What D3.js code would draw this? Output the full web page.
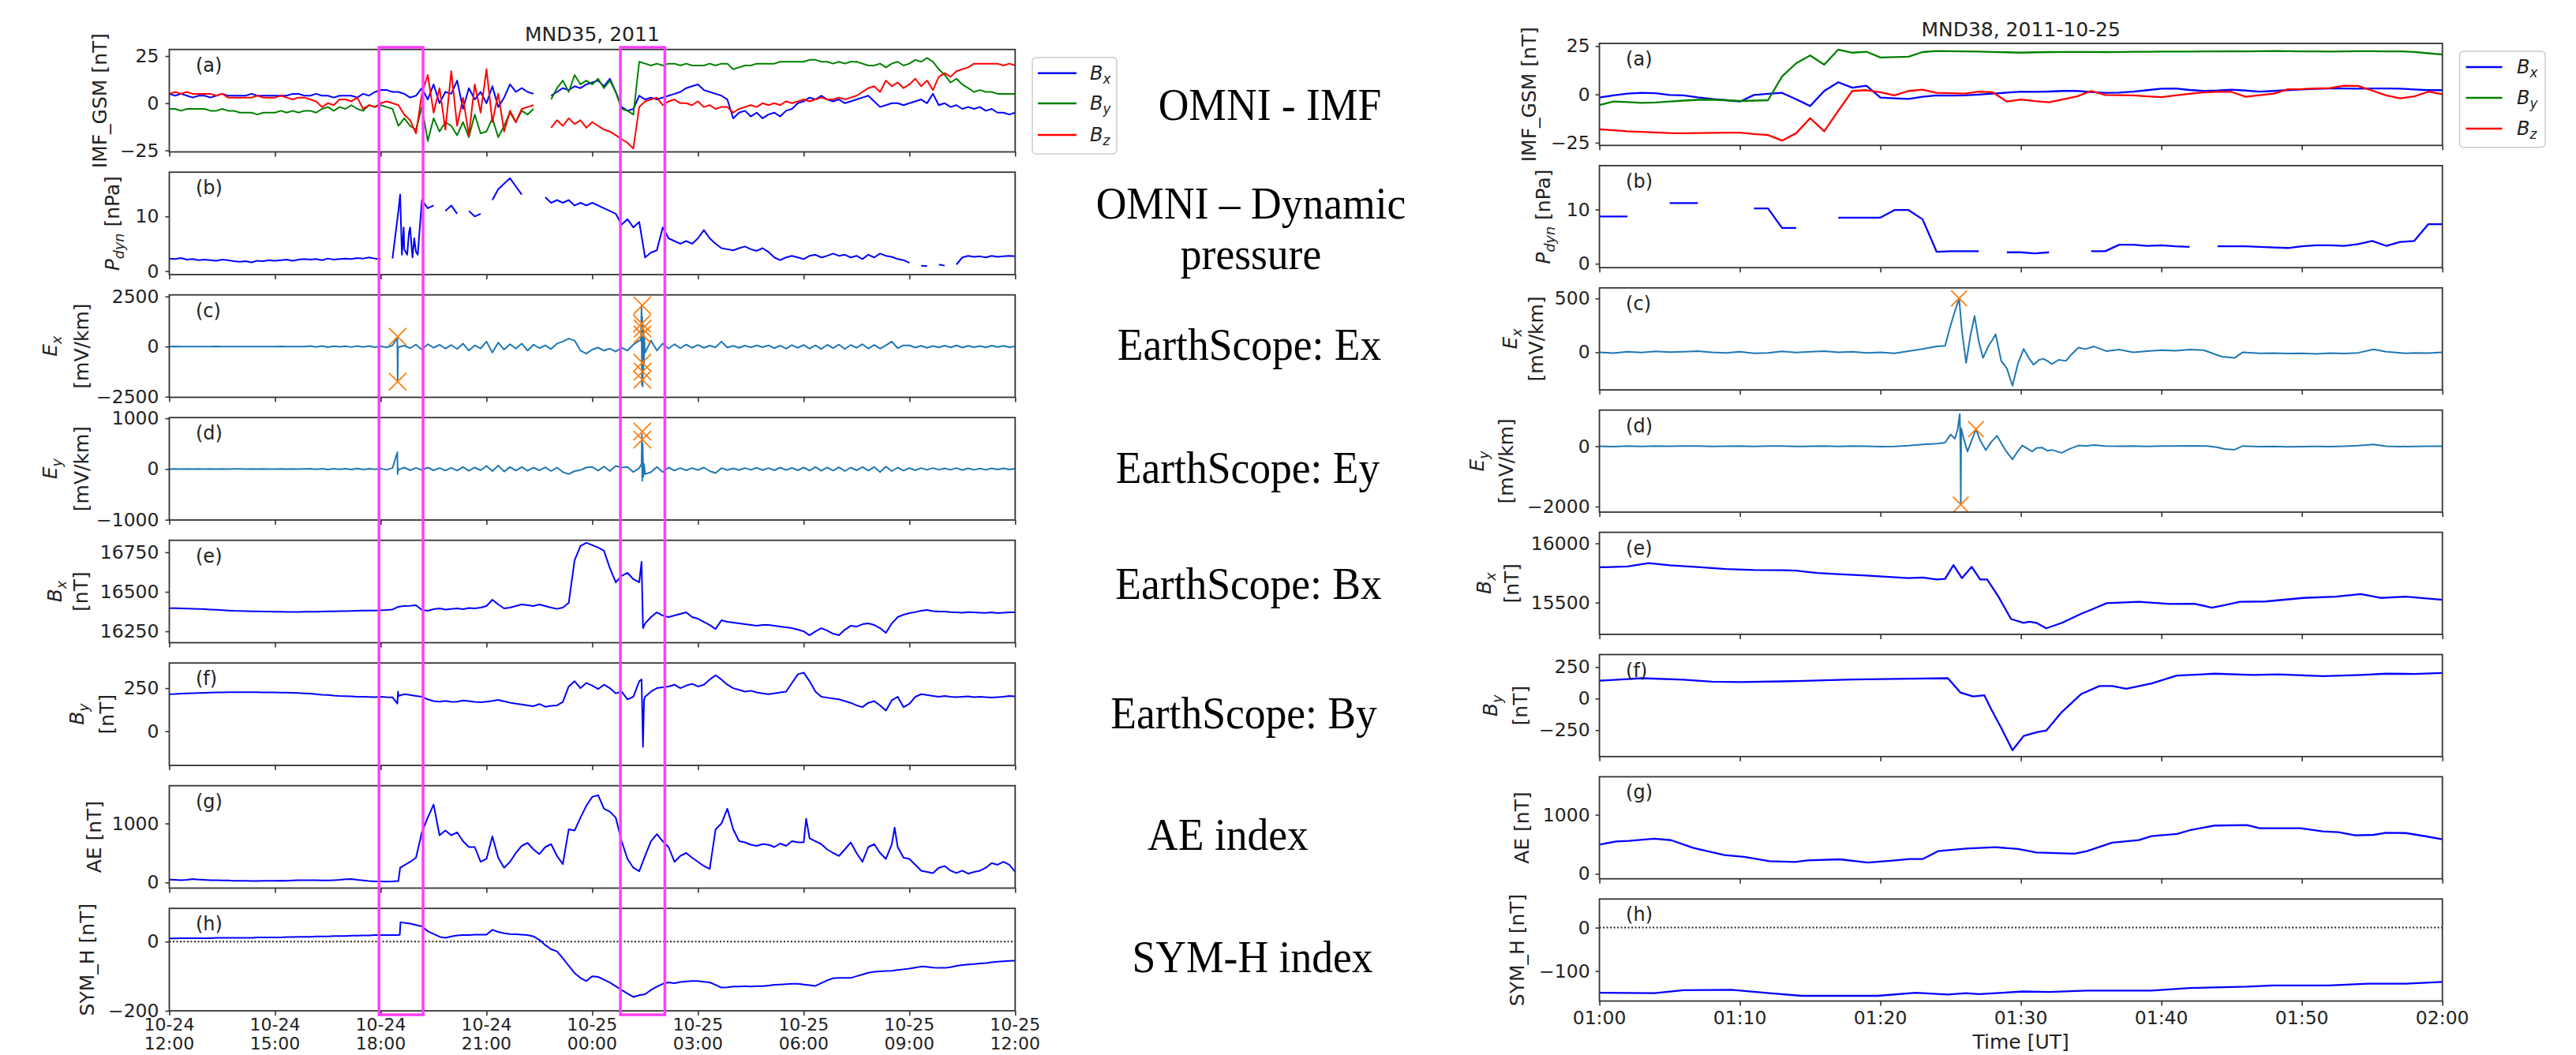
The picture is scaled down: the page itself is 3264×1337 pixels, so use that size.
<!DOCTYPE html>
<html><head><meta charset="utf-8">
<script src="https://cdnjs.cloudflare.com/ajax/libs/d3/7.8.5/d3.min.js"></script>
<style>html,body{margin:0;padding:0;background:#fff;} svg{display:block;}</style>
</head><body>
<svg id="chart" width="3264" height="1337" xmlns="http://www.w3.org/2000/svg"></svg>
<script>
// ===================== DATA =====================
// Left figure: MND35, 10-minute samples from 2011-10-24 12:00 to 2011-10-25 12:00 (145 values)
const leftTitle = "MND35, 2011";
const rightTitle = "MND38, 2011-10-25";
const leftTickDates = ["10-24","10-24","10-24","10-24","10-25","10-25","10-25","10-25","10-25"];
const leftTickTimes = ["12:00","15:00","18:00","21:00","00:00","03:00","06:00","09:00","12:00"];
const rightTickLabels = ["01:00","01:10","01:20","01:30","01:40","01:50","02:00"];

const imfBxL = [5,4,5,4,3,4, 4,3,4,5,4,4, 4,4,5,4,4,4, 4,4,4,5,5,4, 4,5,4,4,3,4, 4,4,3,5,4,6,
  7,7,6,6,5,3, 4,8,2,10,0,6, 5,12,-3,8,2,6, 0,9,-2,3,10,6, 8,6,5,null,null,4, 6,8,7,9,8,10,
  11,12,9,13,6,-2, -4,-3,4,2,3,2, 3,4,5,6,8,9, 10,7,6,5,4,2, -8,-5,-4,-7,-5,-8, -6,-5,-7,-4,-3,0,
  1,3,2,4,2,1, 2,0,1,2,3,4, 1,-2,-1,0,0,-1, 0,1,2,0,5,-1, 0,-2,-1,-3,-2,-3, -2,-4,-3,-5,-5,-6, -5];
const imfByL = [-3,-3,-4,-3,-3,-3, -3,-4,-4,-3,-4,-4, -5,-5,-5,-6,-5,-5, -5,-4,-5,-4,-5,-4, -4,-5,-3,-2,-4,-2, -3,-1,-3,-4,-1,-2,
  -1,-2,-3,-12,-8,-12, -14,-2,-20,-8,-15,-10, -12,-17,-10,-18,-6,-16, -15,-8,-18,-12,-5,-10, -4,-6,-3,null,null,2, 8,12,6,15,10,12,
  10,13,8,12,6,-3, -4,-6,22,21,20,21, 20,21,21,20,21,20, 20,20,21,20,21,21, 18,19,20,20,21,21, 21,21,22,22,22,22,
  22,23,23,22,22,21, 22,21,22,22,21,20, 20,21,19,21,22,20, 21,23,22,24,22,18, 15,11,13,10,8,6, 7,6,6,5,5,5, 5];
const imfBzL = [5,6,5,6,5,5, 5,5,4,5,3,3, 3,3,3,4,3,3, 3,4,3,2,3,3, 2,1,-2,0,-1,2, 2,1,3,-3,-1,-2,
  0,1,0,-1,-6,-9, -16,5,15,-5,8,-14, 17,-12,3,-17,10,-5, 18,-10,5,-15,-4,-10, -3,-2,-1,null,null,-13, -9,-12,-8,-11,-9,-13,
  -10,-12,-14,-15,-17,-19, -21,-24,-2,1,2,3, -1,1,2,0,0,-1, 1,-2,-1,-3,-2,-2, -5,-3,-2,-1,-2,0, -1,0,-1,1,0,1,
  2,1,2,3,2,2, 3,2,3,4,6,8, 9,6,12,9,11,8, 10,13,9,12,7,14, 16,14,17,18,19,21, 21,21,21,21,20,21, 20];
const pdynL = [2.3,2.2,2.4,2.1,2.2,2.0, 2.1,2.0,1.9,2.1,2.0,1.8, 1.7,1.8,1.6,1.9,1.8,2.0, 1.9,2.0,2.1,1.9,2.1,2.2, 2.1,2.2,2.0,2.3,2.1,2.2, 2.3,2.2,2.4,2.3,2.5,2.3,
  2.2,null,2.3,11,4,8, 3.5,13,11.5,12,null,11, 12,10.5,null,11,10,10.5, null,13,15,16,17,15.5, 14,null,14,null,13.5,12.5, 13,12.5,13,12,12.5,12,
  12.5,12,11.5,11,10.5,8.5, 9.5,8,9,2.5,3.4,3.8, 8,6,5.5,5,5.5,5, 6,7.5,6,5,4.2,4, 3.8,4.2,4.5,4.0,3.7,4.2, 3.5,2.5,2,2.5,2.8,2.5,
  2.2,2.8,3,2.5,2.8,3.2, 2.8,3,2.5,2.8,2.2,3, 2.5,3.2,2.8,2.6,2.2,2, 1.5,null,1,0.9,null,1.2, 1,null,1.2,2.5,2.8,2.6, 2.7,2.5,2.8,2.6,2.7,2.8, 2.7];
const pdynExtraL = [[6.55,14],[6.6,3],[6.65,8],[6.75,3],[6.8,7],[6.9,2.5],[6.95,6],[7.05,3]];
const exL = [0,5,-5,3,-2,4, -3,2,5,-4,3,-2, 4,-3,2,-5,3,0, -2,5,-3,4,-4,2, 30,-20,25,-30,20,-15, 20,-25,30,-20,25,-30,
  20,-40,60,-30,50,-80, 100,-150,120,-60,90,-100, 80,-120,150,-200,60,-90, 250,-300,200,-150,120,-100, 150,-200,100,-80,60,-120, 150,250,400,300,-200,-350,
  -150,-50,-200,-100,-250,-50, -200,100,300,-300,300,-200, 150,-100,120,-80,100,-60, 80,-60,50,-40,250,-50, 40,-60,50,-40,60,-30, 60,-80,50,-100,70,-60,
  80,-100,60,-120,90,-70, 100,-120,80,-60,120,-100, 80,-100,60,250,-80,60, 60,-50,40,-60,30,-40, 50,-40,60,-50,40,-30, 30,-40,50,-20,40,-30, 10];
const exExtraL = [[6.47,450],[6.48,-1700],[6.49,20],[13.38,300],[13.40,2050],[13.41,-1900],[13.42,1500],[13.43,-2000],[13.44,1000],[13.45,-1200],[13.46,700],[13.47,-800],[13.48,400],[13.49,-300]];
const exMarkL = [[6.48,500],[6.48,-1750],[13.42,2050],[13.41,1150],[13.43,900],[13.42,600],[13.42,-800],[13.43,-1250],[13.42,-1650]];
const eyL = [0,3,-3,2,-2,3, -2,3,-3,2,-3,2, 3,-2,2,-3,2,-2, -3,2,-2,3,-2,2, 5,-5,8,-8,5,-5, 8,-8,10,-10,8,-5,
  10,-15,20,-20,30,-25, 25,-20,30,-25,20,-30, 25,-30,40,-35,30,-25, 60,-40,70,-50,40,-30, 40,-35,30,-25,35,-40, 30,-60,-100,-40,-20,30,
  40,-30,50,-40,60,30, 40,-60,20,-100,-60,40, -60,30,-30,20,-25,20, -20,30,-40,-80,20,-20, 15,-20,20,-15,25,-20, 20,-25,30,-20,25,-25,
  30,-30,40,-35,30,-30, 35,-40,30,-25,40,-30, 40,-60,50,-40,30,-30, 20,-25,20,-15,20,-15, 15,-15,20,-20,15,-15, 10,-15,15,-10,15,-10, 5];
const eyExtraL = [[6.47,330],[6.48,-100],[6.49,20],[13.40,100],[13.41,690],[13.42,-230],[13.43,500],[13.45,-150],[13.47,100]];
const eyMarkL = [[13.42,740],[13.42,580]];
const bxL = [16397,16396,16395,16394,16393,16392, 16390,16388,16386,16384,16382,16380, 16379,16378,16377,16376,16375,16375,
  16374,16374,16373,16373,16373,16374, 16374,16374,16375,16376,16377,16378, 16378,16379,16380,16381,16382,16382,
  16383,16385,16388,16405,16410,16412, 16415,16385,16380,16390,16395,16388, 16392,16395,16390,16398,16395,16400,
  16410,16450,16420,16395,16400,16410, 16420,16415,16410,16420,16410,16400, 16392,16400,16430,16700,16790,16810,
  16795,16780,16760,16650,16560,16600, 16620,16580,16560,16300,16340,16370, 16350,16340,16350,16360,16370,16340,
  16330,16310,16290,16265,16320,16310, 16305,16300,16295,16290,16285,16290, 16290,16285,16280,16275,16270,16260,
  16250,16225,16250,16270,16255,16235, 16225,16260,16285,16280,16295,16300, 16290,16270,16240,16300,16340,16355,
  16365,16372,16380,16385,16378,16375, 16375,16372,16370,16368,16372,16370, 16368,16366,16370,16365,16368,16370, 16370];
const bxExtraL = [[13.40,16690],[13.44,16270]];
const byL = [215,216,218,220,221,222, 223,224,225,225,226,226, 227,227,226,226,225,225, 225,224,224,223,222,220,
  218,215,212,210,207,205, 204,202,200,200,199,198, 200,198,197,205,215,210, 205,200,185,175,172,176,
  170,172,178,175,170,168, 172,176,182,174,166,160, 155,150,145,158,142,148, 150,170,260,290,250,280,
  265,245,270,250,220,230, 185,200,290,200,230,250, 255,260,270,250,265,275, 260,270,300,325,300,270,
  250,240,230,235,225,220, 215,220,225,230,280,330, 340,290,230,200,195,190, 185,175,165,150,140,165,
  175,150,120,180,200,140, 160,200,215,210,205,200, 205,200,198,200,202,198, 200,198,196,198,200,205, 202];
const byExtraL = [[6.47,160],[6.49,230],[13.40,300],[13.44,-90],[13.47,180]];
const aeL = [50,45,40,45,60,50, 45,40,40,35,35,30, 30,28,25,25,28,30, 30,32,30,35,38,40, 40,38,35,35,40,45, 55,60,45,35,25,20,
  20,15,18,25,290,350, 420,850,1100,1320,800,880, 800,850,700,600,600,350, 400,780,420,250,350,500, 620,670,560,480,600,650,
  450,310,900,880,1100,1300, 1450,1480,1250,1200,1100,700, 400,250,190,450,700,820, 700,600,350,450,500,420,
  350,280,230,900,1000,1250, 900,700,680,640,620,650, 640,600,660,620,700,680, 680,750,700,650,560,500,
  450,560,680,500,350,600, 650,500,400,650,600,420, 400,300,200,180,160,250, 280,200,160,200,150,180, 200,250,330,300,350,300, 180];
const aeExtraL = [[6.55,250],[18.07,1080],[20.58,930]];
const symhL = [9,9,10,10,10,10, 10,10,11,11,11,11, 11,11,11,12,12,12, 12,12,13,13,14,14, 14,15,15,15,16,16, 16,17,17,18,18,19,
  19,19,19,19,54,52, 48,44,30,22,14,11, 15,18,19,19,20,20, 20,34,28,24,22,21, 20,19,15,5,-10,-22, -28,-48,-70,-91,-105,-114,
  -100,-102,-110,-118,-129,-140, -150,-160,-155,-152,-140,-130, -122,-118,-120,-117,-115,-114, -114,-116,-118,-125,-133,-132,
  -130,-130,-129,-130,-129,-129, -127,-125,-124,-123,-122,-122, -124,-126,-128,-120,-112,-106, -105,-105,-105,-100,-95,-90,
  -87,-86,-85,-84,-82,-80, -78,-75,-72,-73,-75,-76, -76,-74,-70,-68,-66,-65, -63,-62,-60,-58,-57,-56, -55];
const symhExtraL = [[6.54,20],[6.56,56]];
// Left highlight windows (hours after 2011-10-24 12:00)
const boxesL = [[5.95,7.2],[12.8,14.06]];

// Right figure: MND38, 2011-10-25 01:00-02:00 (1-minute values, 61 each)
const imfBxR = [-1.6,-0.5,0.4,0.8,0.6,-0.3,-0.5,-1.5,-2.3,-3.0,-3.7,-0.3,0.3,0.8,-2.5,-6,1.8,6.3,3.5,4.5,-1.6,-2.0,-2.3,-1.2,-0.5,-0.6,-0.5,-0.1,0.4,0.9,
  1.4,1.3,1.5,1.8,1.8,1.2,0.8,0.9,1.4,2.2,3.0,3.1,2.3,1.8,2.0,2.5,2.0,1.4,1.8,2.2,2.6,2.9,3.1,3.1,3.0,3.1,3.1,3.0,2.6,2.2,2.2];
const imfByR = [-5.5,-3.7,-4.0,-4.4,-4.2,-3.7,-3.2,-2.8,-2.7,-3.0,-3.4,-3.2,-3.0,9.3,16.1,20.2,15.4,23.2,21.6,22.1,19.1,19.3,19.5,21.9,22.5,22.4,22.3,22.2,22.0,21.8,
  21.6,21.8,21.9,22.0,22.0,22.0,21.9,22.0,22.1,22.1,22.2,22.2,22.2,22.3,22.3,22.4,22.3,22.4,22.5,22.4,22.3,22.3,22.2,22.3,22.4,22.4,22.3,22.3,22.0,21.3,20.6];
const imfBzR = [-18,-18.6,-19.1,-19.4,-19.7,-20.0,-20.1,-20.0,-19.9,-19.8,-19.8,-20.5,-21,-23.9,-20.1,-12.3,-19.1,-8.5,1.8,2.2,1.1,-0.5,1.8,2.5,0.8,0.6,0.4,1.4,1.1,-3.7,
  -2.6,-3.5,-4.1,-2.5,-1,1.8,-0.3,-0.4,-0.5,-1.0,-1.4,-0.5,0.3,1.0,1.4,1.3,-1.2,-0.4,0.4,2.7,2.8,3.1,3.3,4.5,4.4,2.0,-0.5,-2.0,-1.0,1.4,0.1];
const pdynR = [8.7,8.7,8.7,null,null,11.2,11.2,11.2,null,null,null,10.2,10.2,6.6,6.6,null,null,8.5,8.5,8.5,8.5,9.9,9.9,8.2,2.2,2.3,2.3,2.3,null,2.1,
  2.1,1.9,2.1,null,null,2.3,2.3,3.5,3.5,3.3,3.4,3.2,3.1,null,3.2,3.2,3.2,3.1,3.0,2.9,3.2,3.4,3.4,3.3,3.6,4.2,3.3,4.0,4.2,7.3,7.3];
// [minute after 01:00, value]
const exR = [[0,0],[1,-8],[2,5],[3,-3],[4,8],[5,2],[6,5],[7,10],[8,0],[9,-5],[10,5],[11,-10],[12,-5],[13,8],[14,-3],[15,5],[16,10],[17,0],[18,5],[19,-5],[20,0],[21,-10],[22,10],
  [23,30],[24,54],[24.6,60],[25.0,250],[25.3,380],[25.6,500],[25.8,200],[26.1,-98],[26.4,150],[26.7,337],[27.0,100],[27.3,-52],[27.7,60],[28.0,120],[28.2,168],[28.6,-80],
  [29.0,-150],[29.4,-310],[29.8,-100],[30.2,31],[30.6,-60],[30.9,-115],[31.3,-70],[31.6,-60],[32.0,-90],[32.2,-110],[32.7,-70],[33.2,-80],[33.6,-20],[34.1,44],[34.6,30],
  [35.2,54],[35.7,30],[36.1,10],[37,25],[38,0],[39,10],[40,20],[41,15],[42,25],[43,20],[44.3,-41],[45.2,-52],[45.8,0],[47,-10],[48,-8],[49,-12],[50,-10],[51,-15],[52,-8],
  [53,-12],[54,-5],[55.1,27],[56,5],[57.4,-10],[58,-5],[59,-8],[60,0]];
const exMarkR = [[25.6,500]];
const eyR = [[0,0],[1,-10],[2,5],[3,-5],[4,10],[5,0],[6,5],[7,10],[8,-5],[9,0],[10,8],[11,-5],[12,5],[13,10],[14,-8],[15,0],[16,10],[17,-5],[18,5],[19,0],[20,-10],[21,-5],
  [22,20],[23,60],[24,87],[24.6,120],[25.0,391],[25.3,250],[25.5,565],[25.65,1070],[25.7,-300],[25.72,-1930],[25.75,600],[25.9,300],[26.2,-174],[26.5,200],[26.8,565],
  [27.1,200],[27.5,-130],[27.9,150],[28.3,350],[28.9,-130],[29.4,-435],[29.8,-150],[30.1,26],[30.8,-174],[31.1,-60],[31.5,-43],[31.9,-150],[32.2,-120],[32.9,-217],
  [33.5,-80],[34.1,26],[34.6,10],[35.2,43],[36,10],[37,0],[38,10],[39,-5],[40,10],[41,5],[42,15],[43.3,10],[44,-40],[44.5,-90],[45.2,-113],[45.8,10],[47,-10],[48,-5],
  [49,-15],[50,-10],[51,-5],[52,-10],[53,0],[54,20],[55.1,61],[56,0],[57,-10],[58,-5],[59,0],[60,0]];
const eyMarkR = [[25.72,-1930],[26.8,565]];
const bxR = [[0,15798],[2,15805],[3.5,15833],[5,15815],[7,15800],[9,15784],[11,15775],[13,15773],[14,15770],[15.5,15750],[17,15740],[19,15729],[22,15707],[23,15712],
  [24,15696],[24.6,15700],[25.2,15817],[25.8,15707],[26.5,15802],[27.1,15696],[27.6,15696],[28.4,15551],[29.3,15362],[30.2,15329],[30.6,15340],[31.1,15330],[31.8,15284],
  [32.9,15329],[34.3,15407],[35,15440],[36.1,15496],[38.4,15507],[40.6,15489],[42.4,15490],[43.6,15458],[44.5,15480],[45.6,15507],[47.4,15510],[50.1,15540],[52.4,15551],
  [54.2,15573],[55.6,15540],[57.4,15551],[60,15524]];
const byR = [[0,142],[2,155],[3,162],[6,150],[8,135],[10,131],[13,137],[16,145],[18,152],[22,158],[24.8,162],[25.7,48],[26.6,17],[27.4,26],[27.9,-87],[28.6,-233],
  [29.4,-410],[30.2,-296],[31.2,-265],[31.8,-254],[32.9,-108],[34.3,37],[35.6,100],[36.5,100],[37.5,79],[39.3,121],[41.1,183],[43.8,198],[46.5,188],[48.3,192],
  [51.5,179],[54.2,188],[56,198],[58,196],[60,204]];
const aeR = [[0,496],[1.2,549],[2.1,557],[3.9,594],[5.1,570],[6.7,438],[8.9,317],[10.3,287],[12.1,214],[13.9,201],[14.8,228],[17.1,246],[19.1,192],[20.7,220],[22.1,250],
  [23,250],[24.1,384],[26.1,429],[28.2,451],[29.8,420],[31.1,362],[33.8,340],[34.7,384],[36.5,527],[38.4,572],[39.3,638],[41.1,674],[42,737],[43.8,817],[46.1,826],
  [47,773],[49.9,773],[51.5,719],[52.6,705],[53.8,652],[55.1,660],[56,696],[57.4,690],[58.7,640],[60,585]];
const symhR = [[0,-150],[3.9,-151],[5.98,-144],[9.4,-143],[12.1,-151],[14.4,-157],[19.8,-157],[22.5,-150],[24.8,-154],[26.1,-151],[27.0,-153],[30.2,-147],[32.0,-148],
  [34.7,-145],[39.3,-145],[42,-139],[46.1,-136],[47.9,-133],[51.9,-133],[54.7,-129],[57.4,-129],[60,-125]];

const sideLabels = [["OMNI - IMF"],["OMNI – Dynamic","pressure"],["EarthScope: Ex"],["EarthScope: Ey"],["EarthScope: Bx"],["EarthScope: By"],["AE index"],["SYM-H index"]];

// ===================== RENDER =====================
const svg = d3.select("#chart");
const FONT = "DejaVu Sans";
const TICKFS = 23.5, LABFS = 25;
const BLUE="#0000ff", GREEN="#008000", RED="#ff0000", TAB="#1f77b4", ORANGE="#ff7f0e", MAG="#ff3dff";
const leftStart = Date.UTC(2011,9,24,12,0);
const rightStart = Date.UTC(2011,9,25,1,0);
const fmtTick = d3.format("d");

function leftSeries(vals, extras){
  const pts = vals.map((v,i)=>({t:new Date(leftStart+i*600e3), v}));
  (extras||[]).forEach(([h,v])=>pts.push({t:new Date(leftStart+h*3600e3), v}));
  pts.sort((a,b)=>a.t-b.t);
  return pts;
}
const leftPts = arr => arr.map(([h,v])=>({t:new Date(leftStart+h*3600e3), v}));
const rightPairs = arr => arr.map(([m,v])=>({t:new Date(rightStart+m*60e3), v}));
const rightMin = arr => arr.map((v,i)=>({t:new Date(rightStart+i*60e3), v}));

const L = {x0:214.5, x1:1286.3, top0:62.7, step:155.5, h:129.8};
const R = {x0:2026.6, x1:3094.7, top0:55, step:154.9, h:129.3};
const xL = d3.scaleUtc().domain([new Date(leftStart), new Date(leftStart+24*3600e3)]).range([L.x0,L.x1]);
const xR = d3.scaleUtc().domain([new Date(rightStart), new Date(rightStart+3600e3)]).range([R.x0,R.x1]);
const xTicksL = d3.range(0,25,3).map(h=>new Date(leftStart+h*3600e3));
const xTicksR = d3.range(0,61,10).map(m=>new Date(rightStart+m*60e3));

function rich(textSel, parts, fs){
  let sub=false;
  parts.forEach(([s,k])=>{
    const ts = textSel.append("tspan").text(s);
    if(k==="i") ts.attr("font-style","italic");
    if(k==="s"){ ts.attr("font-style","italic").attr("font-size",fs*0.7).attr("dy",fs*0.22); sub=true; }
    else if(sub){ ts.attr("dy",-fs*0.22); sub=false; }
  });
}

let clipN=0;
function panel(o){
  const top=o.top, bot=o.top+o.h, xa0=o.x.range()[0], xa1=o.x.range()[1];
  const y = d3.scaleLinear().domain(o.domain).range([bot, top]);
  const g = svg.append("g");
  const id = "clip"+(clipN++);
  g.append("clipPath").attr("id",id).append("rect").attr("x",xa0).attr("y",top).attr("width",xa1-xa0).attr("height",o.h);
  const plot = g.append("g").attr("clip-path",`url(#${id})`);
  if(o.zero){
    plot.append("line").attr("x1",xa0).attr("x2",xa1).attr("y1",y(0)).attr("y2",y(0))
      .attr("stroke","#222").attr("stroke-width",2).attr("stroke-dasharray","2,2.5");
  }
  o.series.forEach(s=>{
    const line = d3.line().defined(d=>d.v!==null).x(d=>o.x(d.t)).y(d=>y(d.v));
    plot.append("path").datum(s.data).attr("fill","none").attr("stroke",s.color)
      .attr("stroke-width",s.w||2).attr("stroke-linejoin","round").attr("d",line);
  });
  (o.marks||[]).forEach(m=>{
    const cx=o.x(m.t), cy=y(m.v), r=o.mr||10;
    plot.append("path").attr("d",`M${cx-r},${cy-r}L${cx+r},${cy+r}M${cx-r},${cy+r}L${cx+r},${cy-r}`)
      .attr("stroke",ORANGE).attr("stroke-width",1.8).attr("fill","none");
  });
  g.append("rect").attr("x",xa0).attr("y",top).attr("width",xa1-xa0).attr("height",o.h)
    .attr("fill","none").attr("stroke","#333").attr("stroke-width",1.8);
  const ya = g.append("g").attr("transform",`translate(${xa0},0)`)
    .call(d3.axisLeft(y).tickValues(o.ticks).tickSize(5).tickPadding(o.pad||8).tickFormat(fmtTick));
  ya.select(".domain").remove();
  ya.attr("font-size",TICKFS).attr("font-family",FONT);
  ya.selectAll("line").attr("stroke","#333").attr("stroke-width",1.6);
  ya.selectAll("text").attr("fill","#222");
  const xa = g.append("g").attr("transform",`translate(0,${bot})`)
    .call(d3.axisBottom(o.x).tickValues(o.xticks).tickSize(6).tickFormat(""));
  xa.select(".domain").remove();
  xa.selectAll("line").attr("stroke","#333").attr("stroke-width",1.6);
  g.append("text").attr("x",xa0+33.5).attr("y",top+20).attr("dominant-baseline","central")
    .attr("font-family",FONT).attr("font-size",24).attr("fill","#222").text(o.letter);
  o.ylab.forEach((parts,i)=>{
    const t = g.append("text").attr("transform",`translate(${o.ylx[i]},${(top+bot)/2}) rotate(-90)`)
      .attr("text-anchor","middle").attr("font-family",FONT).attr("font-size",LABFS).attr("fill","#222");
    rich(t, parts, LABFS);
  });
  return {y, bot};
}

const letters = ["(a)","(b)","(c)","(d)","(e)","(f)","(g)","(h)"];
const ylabs = [
  [[["IMF_GSM [nT]",""]]],
  [[["P","i"],["dyn","s"],[" [nPa]",""]]],
  [[["E","i"],["x","s"]],[["[mV/km]",""]]],
  [[["E","i"],["y","s"]],[["[mV/km]",""]]],
  [[["B","i"],["x","s"]],[["[nT]",""]]],
  [[["B","i"],["y","s"]],[["[nT]",""]]],
  [[["AE [nT]",""]]],
  [[["SYM_H [nT]",""]]]
];
const ylxL = [[135],[151],[72,112],[72,112],[78,111],[106,144],[128],[119]];
const ylxR = [[1946],[1964],[1922,1955],[1880,1917],[1889,1924],[1897,1935],[1937],[1931]];

const leftCfg = [
  {domain:[-25.8,28.5], ticks:[-25,0,25], series:[{data:leftSeries(imfBxL),color:BLUE},{data:leftSeries(imfByL),color:GREEN},{data:leftSeries(imfBzL),color:RED}]},
  {domain:[-0.64,18.1], ticks:[0,10], series:[{data:leftSeries(pdynL,pdynExtraL),color:BLUE}]},
  {domain:[-2530,2580], ticks:[-2500,0,2500], series:[{data:leftSeries(exL,exExtraL),color:TAB}], marks:leftPts(exMarkL)},
  {domain:[-1005,1015], ticks:[-1000,0,1000], series:[{data:leftSeries(eyL,eyExtraL),color:TAB}], marks:leftPts(eyMarkL)},
  {domain:[16178,16826], ticks:[16250,16500,16750], series:[{data:leftSeries(bxL,bxExtraL),color:BLUE}]},
  {domain:[-198,396], ticks:[0,250], series:[{data:leftSeries(byL,byExtraL),color:BLUE}]},
  {domain:[-95,1640], ticks:[0,1000], series:[{data:leftSeries(aeL,aeExtraL),color:BLUE}]},
  {domain:[-200,96], ticks:[-200,0], series:[{data:leftSeries(symhL,symhExtraL),color:BLUE}], zero:true}
];
const rightCfg = [
  {domain:[-26.4,26.4], ticks:[-25,0,25], series:[{data:rightMin(imfBxR),color:BLUE,w:2.3},{data:rightMin(imfByR),color:GREEN,w:2.3},{data:rightMin(imfBzR),color:RED,w:2.3}]},
  {domain:[-0.73,18.1], ticks:[0,10], series:[{data:rightMin(pdynR),color:BLUE,w:2.3}]},
  {domain:[-349,598], ticks:[0,500], series:[{data:rightPairs(exR),color:TAB}], marks:rightPairs(exMarkR)},
  {domain:[-2183,1200], ticks:[-2000,0], series:[{data:rightPairs(eyR),color:TAB}], marks:rightPairs(eyMarkR)},
  {domain:[15233,16093], ticks:[15500,16000], series:[{data:rightPairs(bxR),color:BLUE,w:2.3}]},
  {domain:[-460,350], ticks:[-250,0,250], series:[{data:rightPairs(byR),color:BLUE,w:2.3}]},
  {domain:[-84,1643], ticks:[0,1000], series:[{data:rightPairs(aeR),color:BLUE,w:2.3}]},
  {domain:[-169,66], ticks:[-100,0], series:[{data:rightPairs(symhR),color:BLUE,w:2.3}], zero:true}
];

let lastL, lastR;
leftCfg.forEach((c,i)=>{
  lastL = panel(Object.assign({x:xL, top:L.top0+i*L.step, h:L.h, xticks:xTicksL, letter:letters[i], ylab:ylabs[i], ylx:ylxL[i], mr:11, pad:8}, c));
});
rightCfg.forEach((c,i)=>{
  lastR = panel(Object.assign({x:xR, top:R.top0+i*R.step, h:R.h, xticks:xTicksR, letter:letters[i], ylab:ylabs[i], ylx:ylxR[i], mr:10, pad:7}, c));
});

// bottom tick labels (two lines on the left figure)
xTicksL.forEach((t,i)=>{
  const tx = svg.append("text").attr("font-family",FONT).attr("font-size",22).attr("fill","#222").attr("text-anchor","middle");
  tx.append("tspan").attr("x",xL(t)).attr("y",lastL.bot+25).text(leftTickDates[i]);
  tx.append("tspan").attr("x",xL(t)).attr("y",lastL.bot+49).text(leftTickTimes[i]);
});
xTicksR.forEach((t,i)=>{
  svg.append("text").attr("x",xR(t)).attr("y",lastR.bot+29).attr("font-family",FONT).attr("font-size",TICKFS)
    .attr("fill","#222").attr("text-anchor","middle").text(rightTickLabels[i]);
});
svg.append("text").attr("x",(R.x0+R.x1)/2).attr("y",lastR.bot+60).attr("font-family",FONT).attr("font-size",LABFS)
  .attr("fill","#222").attr("text-anchor","middle").text("Time [UT]");

// titles
svg.append("text").attr("x",(L.x0+L.x1)/2).attr("y",52).attr("font-family",FONT).attr("font-size",25).attr("fill","#222").attr("text-anchor","middle").text(leftTitle);
svg.append("text").attr("x",(R.x0+R.x1)/2).attr("y",46).attr("font-family",FONT).attr("font-size",25).attr("fill","#222").attr("text-anchor","middle").text(rightTitle);

// legends
function legend(x0,y0,w,h,rowsY,lx0,lx1,tx){
  svg.append("rect").attr("x",x0).attr("y",y0).attr("width",w).attr("height",h).attr("rx",5)
    .attr("fill","#fff").attr("stroke","#ccc").attr("stroke-width",1.5);
  const comps=[["x",BLUE],["y",GREEN],["z",RED]];
  comps.forEach(([c,col],i)=>{
    svg.append("line").attr("x1",lx0).attr("x2",lx1).attr("y1",rowsY[i]).attr("y2",rowsY[i]).attr("stroke",col).attr("stroke-width",2.5);
    const t = svg.append("text").attr("x",tx).attr("y",rowsY[i]+8).attr("font-family",FONT).attr("font-size",24).attr("fill","#222");
    rich(t, [["B","i"],[c,"s"]], 24);
  });
}
legend(1308,72.7,107,122.3,[92.7,131,171],1315,1364,1381);
legend(3116.5,65,108.5,121.7,[85,124,163],3124.5,3170.5,3189);

// highlight boxes
boxesL.forEach(([h0,h1])=>{
  const x0=xL(new Date(leftStart+h0*3600e3)), x1=xL(new Date(leftStart+h1*3600e3));
  svg.append("rect").attr("x",x0).attr("y",60).attr("width",x1-x0).attr("height",1226)
    .attr("fill","none").attr("stroke",MAG).attr("stroke-width",3.5);
});

// side labels
const sidePos = [[1609,152],[1585,277],[1583,456],[1581,612],[1582,759],[1576,923],[1556,1077],[1587,1232]];
sideLabels.forEach((lines,i)=>{
  lines.forEach((s,j)=>{
    svg.append("text").attr("transform",`translate(${sidePos[i][0]},${sidePos[i][1]+j*64}) scale(0.94,1)`)
      .attr("text-anchor","middle").attr("font-family","Liberation Serif").attr("font-size",57).attr("fill","#000").text(s);
  });
});
</script>
</body></html>
